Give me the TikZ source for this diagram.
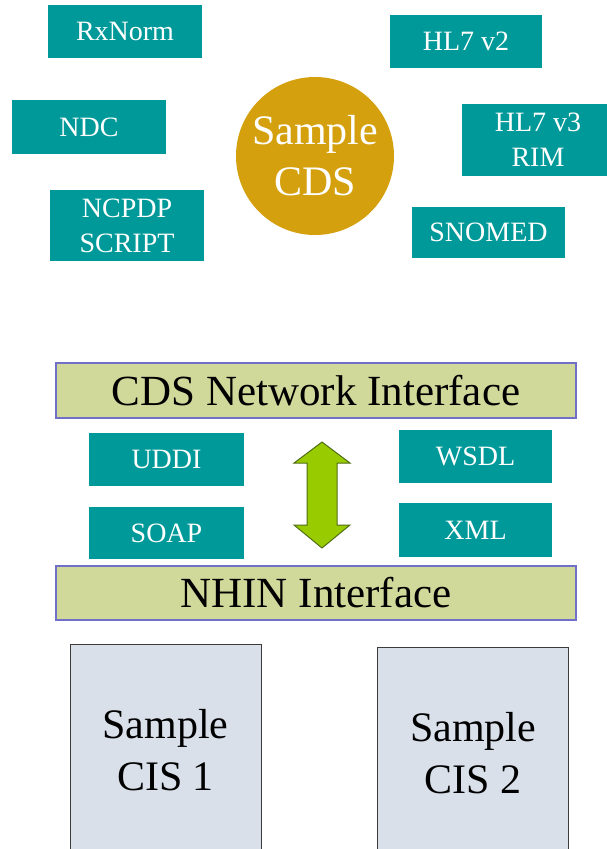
\documentclass[tikz,border=0pt]{standalone}
\usepackage{fontspec}
\setmainfont{LiberationSerif}[Extension=.ttf, UprightFont=*-Regular, BoldFont=*-Bold]
\definecolor{tealbox}{RGB}{0,153,153}
\definecolor{cdsgold}{RGB}{212,160,14}
\definecolor{barfill}{RGB}{208,216,154}
\definecolor{barline}{RGB}{112,112,200}
\definecolor{cisfill}{RGB}{217,224,234}
\definecolor{cisline}{RGB}{60,60,60}
\definecolor{arrowfill}{RGB}{153,204,0}
\definecolor{arrowline}{RGB}{80,110,20}
\tikzset{
  std/.style={rectangle, fill=tealbox, text=white, inner sep=0pt, align=center,
    font=\fontsize{28}{35}\selectfont},
  bar/.style={rectangle, fill=barfill, draw=barline, line width=1.4pt, inner sep=0pt,
    minimum width=520pt, font=\fontsize{43}{50}\selectfont},
  cis/.style={rectangle, fill=cisfill, draw=cisline, line width=1pt, inner sep=0pt,
    align=center, minimum width=191pt, minimum height=212pt,
    font=\fontsize{42}{52}\selectfont},
}
\begin{document}
\begin{tikzpicture}[x=1pt, y=-1pt]
\useasboundingbox (0,0) rectangle (607,849);
\clip (0,0) rectangle (607,849);
\fill[white] (0,0) rectangle (607,849);

% standards around the decision-support service
\node[std, minimum width=154pt, minimum height=53pt] (rxnorm) at (125,31.5) {RxNorm};
\node[std, minimum width=154pt, minimum height=54pt] (ndc) at (89,127) {NDC};
\node[std, minimum width=154pt, minimum height=71pt] (ncpdp) at (127,225.5) {NCPDP\\SCRIPT};
\node[std, minimum width=152pt, minimum height=53pt] (hlv2) at (466,41.5) {HL7 v2};
\node[std, minimum width=152pt, minimum height=72pt] (hlv3) at (538,140) {HL7 v3\\RIM};
\node[std, minimum width=153pt, minimum height=51pt] (snomed) at (488.5,232.5) {SNOMED};

% the decision-support service
\node[circle, fill=cdsgold, text=white, minimum size=158pt, inner sep=0pt, align=center,
  font=\fontsize{42}{51}\selectfont] (cds) at (315,156) {Sample\\CDS};

% interface layers
\node[bar, minimum height=55pt] (cdsnet) at (316,390.5) {CDS Network Interface};
\node[bar, minimum height=54pt] (nhin) at (316,593) {NHIN Interface};

% web-service standards
\node[std, minimum width=155pt, minimum height=53pt] (uddi) at (166.5,459.5) {UDDI};
\node[std, minimum width=155pt, minimum height=52pt] (soap) at (166.5,533) {SOAP};
\node[std, minimum width=153pt, minimum height=53pt] (wsdl) at (475.5,456.5) {WSDL};
\node[std, minimum width=153pt, minimum height=54pt] (xml) at (475.5,530) {XML};

% two-way exchange between the layers
\draw[fill=arrowfill, draw=arrowline, line width=1pt, line join=miter]
  (322,442) -- (350,463) -- (337,463) -- (337,525) -- (350,525) -- (322,548)
  -- (294,525) -- (307,525) -- (307,463) -- (294,463) -- cycle;

% clinical information systems
\node[cis] (cis1) at (165.5,750) {Sample\\CIS 1};
\node[cis] (cis2) at (473,753) {Sample\\CIS 2};
\end{tikzpicture}
\end{document}
